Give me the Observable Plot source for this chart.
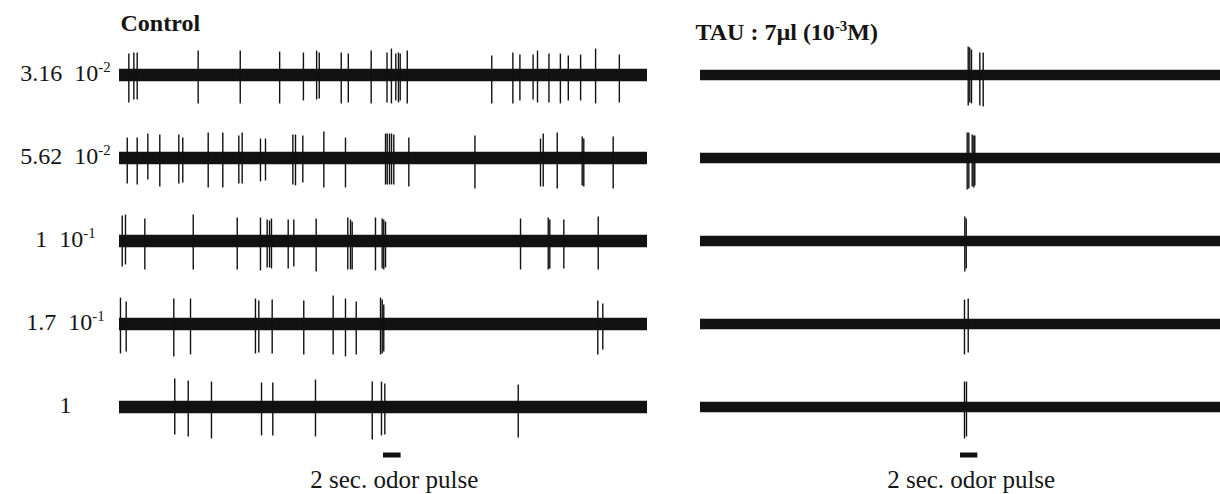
<!DOCTYPE html>
<html><head><meta charset="utf-8">
<script src="https://cdn.jsdelivr.net/npm/d3@7"></script>
<script src="https://cdn.jsdelivr.net/npm/@observablehq/plot@0.6"></script>
<style>
html,body{margin:0;padding:0;background:#fff;}
#wrap{display:flex;width:1220px;height:494px;overflow:hidden;}
#wrap svg{display:block;flex:none;}
</style></head><body><div id="wrap"></div>
<script>
// ---- categories / labels ----
const concentrations = ["3.16\u00a0 10{-2}", "5.62\u00a0 10{-2}", "1\u00a0 10{-1}", "1.7\u00a0 10{-1}", "1"];
const conditions = ["Control", "TAU : 7\u00b5l (10{-3}M)"];
const pulseLabel = "2 sec. odor pulse";
const pulseStart = 30;   // s
const pulseEnd = 32;     // s
const recordingSeconds = 60;

// ---- spikes: [time (s), upward amplitude, downward amplitude] ----
const control_r1 = [[1.06,21,28],[1.63,22,25],[2.01,22,25],[8.94,24,29],[13.72,24,29],[18.2,23,29],[20.9,22,26],[22.4,24,25],[22.7,22,24],[25.2,22,29],[26.0,21,28],[28.6,24,29],[30.4,22,28],[30.9,26,29],[31.4,21,26],[31.7,22,28],[31.9,21,26],[32.7,24,29],[42.3,19,29],[44.7,22,29],[45.5,20,26],[47.0,20,25],[47.5,24,28],[48.8,21,28],[50.1,21,29],[51.0,19,26],[52.4,20,26],[54.1,26,29],[56.8,20,28]];
const control_r2 = [[0.88,20,26],[2.01,20,27],[3.22,24,22],[4.58,23,29],[6.74,23,26],[7.19,20,25],[10.08,25,30],[11.74,25,30],[13.56,22,26],[13.94,25,26],[16.02,19,24],[16.59,19,23],[19.70,23,27],[20.0,23,28],[20.83,22,25],[23.22,26,30],[25.68,20,30],[30.23,24,27],[30.42,24,27],[30.68,24,27],[30.91,24,27],[31.17,23,27],[32.88,20,29],[40.39,22,31],[47.84,19,29],[48.15,24,29],[49.74,25,31],[52.58,21,28],[52.76,19,29],[56.1,21,31]];
const control_r3 = [[0.31,25,26],[0.68,26,24],[2.88,22,29],[8.38,26,29],[13.38,23,29],[16.02,23,30],[16.78,21,27],[17.05,20,27],[17.27,22,28],[19.17,21,28],[19.81,21,26],[22.35,22,31],[25.94,23,29],[26.25,21,29],[26.44,19,29],[29.09,23,30],[29.85,22,28],[30.03,21,29],[30.23,19,27],[45.57,22,29],[48.72,23,29],[48.90,21,28],[50.49,21,28],[54.4,24,29]];
const control_r4 = [[0.11,26,30],[0.76,22,28],[6.17,25,33],[8.07,25,31],[15.45,25,30],[15.83,23,29],[17.35,24,30],[20.94,23,31],[24.28,28,31],[25.68,25,33],[26.9,22,31],[29.66,26,31],[29.85,24,30],[30.03,19,28],[54.35,23,31],[54.92,20,26]];
const control_r5 = [[6.28,28,28],[7.81,26,30],[10.45,25,32],[16.14,24,29],[17.42,24,29],[22.27,27,30],[28.72,25,33],[29.77,25,29],[30.15,23,28],[45.31,22,31]];
const tau_r1 = [[30.89,28,31],[31.07,27,28],[31.27,25,29],[32.23,22,31],[32.62,22,32]];
const tau_r2 = [[30.77,25,32],[30.96,25,31],[31.35,23,29],[31.54,22,30],[31.65,22,28]];
const tau_r3 = [[30.50,24,31],[30.66,22,28]];
const tau_r4 = [[30.46,24,31],[30.89,25,29]];
const tau_r5 = [[30.46,25,32],[30.69,25,30]];

// ---- tables built from the arrays ----
const toRows = lists => lists.flatMap((arr, i) => arr.map(([t, up, down]) => ({row: concentrations[i], t, up, down})));
const controlSpikes = toRows([control_r1, control_r2, control_r3, control_r4, control_r5]);
const tauSpikes = toRows([tau_r1, tau_r2, tau_r3, tau_r4, tau_r5]);
const rows = concentrations.map(row => ({row}));
const pulse = [{start: pulseStart, end: pulseEnd, label: pulseLabel}];
const lastRow = concentrations[concentrations.length - 1];
const serif = "'Liberation Serif', 'Times New Roman', Times, serif";

function panel({spikes, width, marginLeft, marginRight, band, title, titleDx, titleDy, labels}) {
  const marks = [
    Plot.ruleY(rows, {y: () => 0, fy: "row", stroke: "#121212", strokeWidth: band}),
    Plot.ruleX(spikes, {x: "t", y1: d => -d.down, y2: "up", fy: "row", stroke: "#111", strokeWidth: 1.4}),
    Plot.ruleY(pulse, {x1: "start", x2: "end", y: () => 0, fy: () => lastRow, dy: 48, stroke: "#111", strokeWidth: 5}),
    Plot.text(pulse, {x: d => (d.start + d.end) / 2, y: () => 0, fy: () => lastRow, text: "label",
      dy: 81, dx: 2, lineAnchor: "bottom", fontSize: 25, fontFamily: serif, fill: "#151515"}),
    Plot.text([{row: concentrations[0], title}], {fy: "row", text: "title", frameAnchor: "top-left",
      textAnchor: "start", lineAnchor: "bottom", dx: titleDx, dy: titleDy, fontWeight: "bold",
      fontSize: 24, fontFamily: serif, fill: "#151515"})
  ];
  if (labels) marks.push(Plot.text(rows, {fy: "row", text: "row", frameAnchor: "left", textAnchor: "middle",
    dx: -54, dy: -2, fontSize: 24, fontFamily: serif, fill: "#151515"}));
  return Plot.plot({
    width, height: 494, marginLeft, marginRight, marginTop: 32, marginBottom: 46,
    x: {domain: [0, recordingSeconds], axis: null},
    y: {domain: [-41.6, 41.6], axis: null},
    fy: {domain: concentrations, padding: 0, axis: null},
    style: {background: "white", overflow: "visible"},
    marks
  });
}

function superscripts(svg) {
  svg.querySelectorAll("text").forEach(t => {
    const s = t.textContent;
    if (!s.includes("{")) return;
    const fs = parseFloat(getComputedStyle(t).fontSize) || 24;
    const raise = fs * 0.36;
    t.textContent = "";
    let raised = false;
    s.split(/(\{[^}]*\})/).filter(p => p).forEach(p => {
      const ts = document.createElementNS("http://www.w3.org/2000/svg", "tspan");
      if (p.startsWith("{")) {
        ts.textContent = p.slice(1, -1);
        ts.setAttribute("font-size", (fs * 0.62).toFixed(1));
        ts.setAttribute("dy", (-raise).toFixed(1));
        raised = true;
      } else {
        ts.textContent = p;
        if (raised) { ts.setAttribute("dy", raise.toFixed(1)); raised = false; }
      }
      t.appendChild(ts);
    });
  });
}

const wrap = document.getElementById("wrap");
const left = panel({spikes: controlSpikes, width: 650, marginLeft: 119, marginRight: 3, band: 12.5,
  title: conditions[0], titleDx: 1, titleDy: -3, labels: true});
const right = panel({spikes: tauSpikes, width: 570, marginLeft: 50, marginRight: 0, band: 10.5,
  title: conditions[1], titleDx: -5, titleDy: 6, labels: false});
wrap.appendChild(left);
wrap.appendChild(right);
superscripts(left);
superscripts(right);
</script></body></html>
